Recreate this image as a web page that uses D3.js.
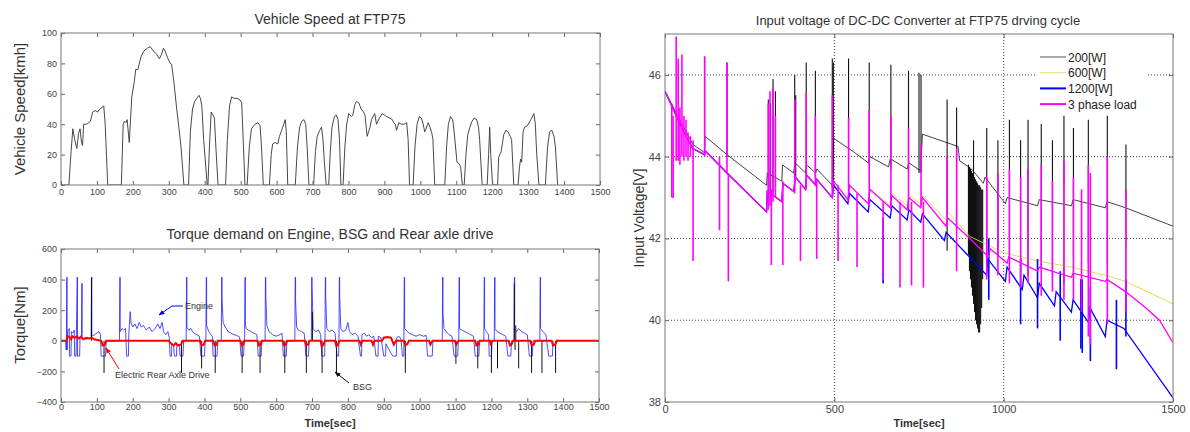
<!DOCTYPE html>
<html>
<head>
<meta charset="utf-8">
<script src="https://cdn.jsdelivr.net/npm/d3@7"></script>
<style>
body { margin: 0; background: #fff; }
text { font-family: "Liberation Sans", Arial, sans-serif; }
</style>
</head>
<body>
<svg id="chart" width="1190" height="432"></svg>
<script>

// ---- vehicle speed (FTP75), [sec, km/h]
var speed = [
    [0,0],[22,0],[28,22],[33,37],[38,30],[44,24],[49,34],[53,37],[57,28],[60,26],[63,40],[72,40],[82,42],[88,48],[95,49],[102,48],[108,50],[114,51],[119,52],[123,40],[130,0],
    [168,0],[173,40],[177,42],[181,41],[184,43],[188,33],[190,28],[197,58],[204,68],[208,76],[214,76],[222,84],[230,88],[240,90],[248,91],[258,88],[266,86],[274,83],[280,86],[285,90],[290,88],[296,84],[302,81],[308,79],[314,68],[322,50],[328,38],[334,25],[342,0],
    [355,0],[360,35],[366,50],[372,55],[378,57],[384,59],[388,57],[392,52],[397,30],[407,0],
    [409,0],[413,25],[418,48],[423,46],[427,44],[431,25],[437,0],
    [458,0],[463,30],[469,52],[475,58],[482,57],[490,57],[498,56],[503,54],[507,30],[512,0],
    [518,0],[524,25],[530,37],[540,40],[548,41],[554,39],[558,25],[563,0],
    [580,0],[585,20],[589,27],[596,28],[603,27],[608,32],[614,36],[620,40],[624,43],[627,35],[631,0],
    [652,0],[658,25],[664,38],[670,42],[676,43],[681,40],[685,25],[690,0],
    [703,0],[708,22],[713,32],[720,36],[725,38],[729,30],[733,15],[738,0],
    [745,0],[749,20],[754,38],[761,45],[766,46],[771,43],[775,30],[779,0],
    [785,0],[790,25],[795,40],[801,47],[808,45],[812,46],[818,53],[822,55],[829,54],[835,50],[842,48],[846,46],[852,32],[856,35],[860,38],[864,43],[873,47],[878,40],[886,44],[894,47],[900,46],[906,45],[915,44],[922,43],[926,41],[930,40],[934,36],[940,41],[947,40],[955,40],[962,41],[966,30],[970,0],
    [980,0],[985,25],[991,40],[997,45],[1003,44],[1008,40],[1012,35],[1016,37],[1022,41],[1027,38],[1032,34],[1035,30],[1040,0],
    [1068,0],[1073,25],[1078,40],[1084,45],[1090,43],[1094,35],[1098,25],[1102,15],[1108,14],[1112,12],[1117,0],
    [1122,0],[1127,20],[1132,33],[1138,38],[1144,42],[1150,44],[1157,43],[1162,38],[1165,30],[1172,0],
    [1186,0],[1190,20],[1193,38],[1196,20],[1201,0],
    [1215,0],[1218,18],[1221,20],[1225,22],[1232,33],[1238,36],[1244,35],[1250,32],[1254,30],[1260,0],
    [1272,0],[1276,12],[1279,17],[1282,15],[1286,35],[1290,38],[1298,39],[1305,42],[1310,44],[1316,47],[1320,40],[1324,20],[1330,0],
    [1348,0],[1354,25],[1360,35],[1366,36],[1372,32],[1376,25],[1382,0]
];

// ---- torque demand, [sec, Nm]
var engine = [
    [0,0],[13,0],[14,-60],[15,-60],[16,415],[17,415],[17,-60],[19,60],[23,80],[24,-100],[28,-100],[29,60],[33,50],[37,70],[38,-100],[42,-100],[43,40],[45,415],[46,415],[46,-100],[52,-100],[53,30],[57,30],[58,375],[59,375],[59,20],[68,10],[78,15],[84,20],[85,415],[86,415],[86,30],[93,40],[100,50],[106,60],[110,40],[112,-100],[124,-100],[126,0],
    [163,0],[164,415],[165,415],[165,60],[170,80],[175,70],[180,80],[183,-100],[188,-100],[189,40],[193,190],[195,120],[200,90],[206,110],[212,80],[218,120],[224,90],[230,100],[238,70],[246,90],[254,60],[262,80],[270,110],[276,80],[282,120],[286,60],[292,40],[298,60],[302,20],[304,-100],[308,-100],[309,-20],[314,-30],[316,-100],[322,-100],[323,-20],[330,-30],[332,-100],[340,-100],[342,0],
    [349,0],[350,415],[351,415],[351,90],[356,70],[362,80],[370,50],[378,40],[386,30],[390,-100],[400,-100],[402,0],
    [404,0],[405,415],[406,415],[406,100],[412,60],[418,40],[422,30],[424,-100],[435,-100],[437,0],
    [447,0],[448,415],[449,415],[449,280],[452,120],[458,90],[466,60],[474,50],[482,40],[490,35],[498,25],[502,-100],[509,-100],[511,0],
    [512,0],[513,415],[514,415],[514,100],[517,80],[522,70],[530,60],[538,50],[546,40],[550,-100],[558,-100],[560,0],
    [569,0],[570,415],[571,415],[571,300],[574,100],[580,60],[590,40],[600,30],[610,40],[616,50],[620,-100],[628,-100],[630,0],
    [652,0],[653,415],[654,415],[654,260],[657,90],[662,70],[670,60],[678,50],[683,-100],[690,-100],[692,0],
    [698,0],[699,415],[700,415],[700,360],[703,80],[710,60],[718,70],[724,40],[727,-100],[735,-100],[736,0],
    [736,0],[737,415],[738,415],[738,300],[741,80],[748,60],[756,70],[764,50],[770,-100],[774,-100],[775,0],
    [775,0],[776,415],[777,415],[777,300],[780,80],[786,60],[794,70],[800,120],[804,60],[812,40],[820,50],[828,30],[835,-100],[838,-100],[839,40],[846,50],[852,30],[858,40],[866,20],[872,30],[878,-100],[884,-100],[885,30],[892,20],[900,-100],[905,-100],[906,-20],[915,-60],[925,-100],[935,-100],[936,20],[942,30],[948,10],[952,-100],[956,-100],
    [956,0],[957,415],[958,415],[958,80],[962,70],[970,50],[980,40],[990,30],[1000,40],[1010,30],[1018,35],[1022,-100],[1035,-100],[1037,0],
    [1063,0],[1064,415],[1065,415],[1065,180],[1068,80],[1074,60],[1082,40],[1090,30],[1096,-100],[1106,-100],[1108,0],
    [1109,0],[1110,415],[1111,415],[1111,80],[1118,70],[1126,60],[1134,50],[1142,40],[1150,30],[1155,-100],[1165,-100],[1167,0],
    [1179,0],[1180,415],[1181,415],[1181,80],[1186,60],[1192,40],[1194,-100],[1200,-100],[1202,0],
    [1208,0],[1209,415],[1210,415],[1210,80],[1216,60],[1224,50],[1232,40],[1240,30],[1246,-100],[1254,-100],[1256,0],
    [1263,0],[1264,415],[1265,415],[1265,80],[1270,60],[1276,80],[1284,60],[1292,50],[1300,40],[1306,-100],[1314,-100],[1316,0],
    [1335,0],[1336,415],[1337,415],[1337,80],[1344,60],[1352,40],[1360,-100],[1370,-100],[1372,0]
];

// BSG spikes, [sec, Nm]
var bsg = [
    [85,415],[120,-210],[336,-210],[392,-180],[430,-210],[505,-210],[555,-210],[624,-210],[684,-210],
    [701,190],[728,-210],[768,-210],[960,-210],[1101,-150],[1162,-180],[1200,-210],[1217,-180],
    [1264,375],[1266,-60],[1268,100],[1276,-180],[1312,-210],[1341,-210],[1379,-210]
];

// electric rear axle drive, [sec, Nm]
var rearAxle = [
    [0,0],[16,0],[18,30],[24,25],[28,10],[32,30],[38,20],[44,30],[50,15],[56,25],[62,10],[70,20],[80,15],[86,20],[92,10],[112,0],[116,-30],[122,-25],[126,0],
    [300,0],[308,-20],[314,-30],[320,-15],[326,-30],[334,-25],[340,0],[388,0],[392,-30],[398,-25],[402,0],[424,0],[428,-30],[434,-25],[437,0],
    [500,0],[504,-30],[508,-25],[511,0],[548,0],[552,-30],[557,-25],[560,0],[618,0],[622,-30],[627,-25],[630,0],[680,0],[684,-30],[689,-25],[692,0],
    [724,0],[727,-35],[732,-25],[736,0],[764,0],[768,-35],[772,-25],[776,0],[832,0],[836,-25],[840,0],[866,0],[870,-25],[874,0],
    [895,0],[900,20],[910,25],[920,20],[928,-25],[934,0],[956,0],[960,-30],[966,-20],[970,0],[1026,0],[1030,-25],[1036,0],
    [1098,0],[1102,-25],[1108,0],[1155,0],[1158,-30],[1164,-25],[1167,0],[1196,0],[1198,-30],[1202,0],
    [1248,0],[1252,-30],[1257,-20],[1260,0],[1308,0],[1312,-30],[1318,-25],[1322,0],[1368,0],[1372,-30],[1378,-25],[1382,0],[1500,0]
];

// ---- DC-DC input voltage, baselines [sec, V]
var black200 = [
    [0,45.6],[25,45.2],[50,44.8],[82,44.3],[117,44.1],[118,44.5],[183,44.05],[300,43.3],[302,43.6],[345,43.4],[347,43.8],[380,43.6],[384,43.85],
    [415,43.6],[418,43.8],[445,43.6],[448,43.7],[494,43.3],[498,44.45],[560,44.1],[600,43.85],[605,44.0],[660,43.75],[665,43.95],[715,43.7],
    [720,43.85],[755,43.65],[760,44.55],[830,44.35],[865,44.25],[870,43.9],[905,43.7],[940,43.35],[945,43.5],[1005,42.85],[1010,43.0],
    [1100,42.8],[1105,42.95],[1200,42.8],[1205,42.95],[1300,42.75],[1305,42.9],[1360,42.75],[1500,42.3]
];
var yellow600 = [
    [0,45.6],[25,45.15],[50,44.7],[82,44.2],[117,44.05],[118,44.15],[183,43.6],[300,42.65],[302,43.15],[345,42.9],[348,43.35],[380,43.15],
    [385,43.5],[415,43.2],[418,43.55],[445,43.3],[448,43.45],[494,43.0],[498,43.4],[540,42.95],[545,43.3],[600,42.85],[605,43.2],[665,42.8],
    [670,43.1],[715,42.8],[720,43.05],[755,42.85],[760,43.05],[830,42.45],[835,42.65],[900,42.05],[1000,41.65],[1100,41.45],[1200,41.3],
    [1300,41.1],[1360,40.95],[1500,40.4]
];
var blue1200 = [
    [0,45.6],[25,45.15],[50,44.7],[82,44.2],[117,44.05],[118,44.15],[183,43.6],[300,42.65],[302,43.15],[345,42.9],[348,43.35],[380,43.15],
    [385,43.5],[415,43.2],[418,43.55],[445,43.3],[448,43.45],[494,43.0],[498,43.3],[540,42.85],[545,43.1],[600,42.65],[605,42.95],[665,42.5],
    [670,42.8],[715,42.45],[720,42.7],[755,42.4],[760,42.6],[825,41.95],[830,42.15],[950,41.1],[953,41.5],[1005,40.95],[1010,41.3],
    [1055,40.75],[1060,41.1],[1100,40.55],[1105,40.9],[1150,40.35],[1155,40.7],[1200,40.2],[1205,40.5],[1250,39.95],[1255,40.3],
    [1300,39.6],[1305,40.0],[1355,39.8],[1500,38.1]
];
var magenta3ph = [
    [0,45.6],[25,45.15],[50,44.7],[82,44.2],[117,44.05],[118,44.15],[183,43.6],[300,42.65],[302,43.15],[345,42.9],[348,43.35],[380,43.15],
    [385,43.5],[415,43.2],[418,43.55],[445,43.3],[448,43.45],[494,43.0],[498,43.4],[540,42.95],[545,43.3],[600,42.85],[605,43.2],[665,42.75],
    [670,43.05],[715,42.7],[720,43.0],[755,42.75],[760,43.0],[830,42.3],[835,42.5],[900,42.0],[955,41.55],[960,41.75],[1010,41.4],
    [1015,41.55],[1100,41.2],[1105,41.3],[1200,41.05],[1205,41.15],[1300,40.95],[1305,41.0],[1360,40.7],[1420,40.3],[1460,40.0],[1500,39.45]
];

// spikes, [sec, low V, high V]
var blackSpikes = [
    [117,44.2,46.45],[183,44.0,46.3],[305,42.9,45.4],[312,43.0,45.3],[319,43.1,45.9],[326,43.2,45.6],[383,43.4,46.0],[386,43.5,45.5],
    [417,43.5,46.3],[444,43.5,46.1],[494,43.2,46.4],[497,43.2,46.3],[542,43.9,46.4],[603,43.8,46.3],[667,43.7,46.25],[719,43.6,46.1],
    [750,43.6,46.05],[756,43.6,46.0],[833,41.7,45.4],[861,42.5,45.2],[911,42.8,44.4],[950,41.5,44.7],[983,41.6,44.4],[1017,41.2,44.9],
    [1050,41.2,44.4],[1072,41.1,44.9],[1111,41.3,44.8],[1144,41.0,44.4],[1178,40.9,45.0],[1206,41.5,44.7],[1250,41.4,44.9],
    [1306,41.4,45.0],[1361,41.8,44.3]
];
var blackCluster = [
    [896,41.6,43.8],[899,41.2,43.75],[902,41.0,43.7],[905,40.8,43.65],[908,40.6,43.6],[911,40.4,43.55],[914,40.2,43.5],[917,40.0,43.45],
    [920,39.9,43.4],[923,39.8,43.35],[926,39.7,43.3],[929,39.7,43.3],[932,39.9,43.25],[935,40.3,43.2],[938,41.0,43.2]
];
var yellowSpikes = [[1178,41.3,43.3],[1250,41.2,43.1],[1306,41.1,43.5],[1361,41.0,43.0]];
var blueSpikes = [
    [644,40.9,42.5],[956,40.5,42.0],[1050,39.9,41.5],[1100,39.8,41.5],[1167,39.5,41.2],[1228,39.3,41.0],[1232,39.2,41.0],
    [1256,39.0,40.8],[1333,38.8,40.5],[1361,39.6,41.0]
];
var magentaSpikes = [
    [20,43.0,45.3],[24,42.98,45.0],[33,43.9,46.94],[39,43.9,46.4],[44,43.8,45.2],[50,44.0,46.5],[56,43.9,45.0],[62,44.0,44.9],[68,43.9,44.6],
    [75,44.0,44.5],[83,41.45,44.4],[117,44.0,46.45],[161,42.2,44.0],[183,43.6,46.3],[187,40.95,43.6],[305,42.7,45.3],[310,42.8,45.6],
    [314,41.35,43.2],[319,42.9,45.7],[326,43.0,45.0],[348,41.35,43.4],[383,43.1,45.4],[400,41.45,43.3],[417,43.2,45.55],[444,43.3,45.0],
    [448,41.5,43.4],[494,43.0,45.5],[511,41.45,43.3],[542,42.9,44.95],[567,41.3,43.1],[603,42.8,45.15],[644,41.0,42.9],[667,42.7,45.0],
    [694,40.8,42.9],[719,42.7,44.7],[728,40.85,42.9],[756,42.8,44.3],[763,40.8,42.9],[833,42.3,44.0],[861,41.2,44.2],[950,41.0,43.5],
    [983,41.1,43.6],[1017,40.9,43.7],[1050,40.8,43.5],[1072,40.9,43.7],[1111,40.6,43.8],[1144,40.7,43.4],[1178,40.5,43.9],
    [1206,40.5,43.5],[1230,40.2,43.2],[1250,39.6,43.8],[1256,39.4,43.6],[1306,39.9,44.0],[1361,40.2,43.2]
];

var legendNames = ["200[W]", "600[W]", "1200[W]", "3 phase load"];
var legendColors = ["#555555", "#e0e070", "#0000ff", "#ff00ff"];

var timeTicks = d3.range(0, 1501, 100);
var speedTicks = [0, 20, 40, 60, 80, 100];
var torqueTicks = [-400, -200, 0, 200, 400, 600];
var voltTicks = [38, 40, 42, 44, 46];
var voltTimeTicks = [0, 500, 1000, 1500];

var svg = d3.select("#chart");
var fmt = d3.format("d");

// matlab style box: inside ticks on all four sides
var frame = function (g, x, y, xt, yt, fs, pad) {
    var r = x.range(), b = y.range();
    g.append("g")
        .attr("transform", "translate(0," + b[0] + ")")
        .call(d3.axisBottom(x).tickValues(xt).tickFormat(fmt).tickSizeInner(-4).tickSizeOuter(0).tickPadding(pad))
        .call(function (a) { a.select(".domain").remove(); })
        .selectAll("text").style("font-size", fs + "px").attr("fill", "#444");
    g.append("g")
        .attr("transform", "translate(0," + b[1] + ")")
        .call(d3.axisTop(x).tickValues(xt).tickSizeInner(-4).tickSizeOuter(0).tickFormat(""))
        .call(function (a) { a.select(".domain").remove(); });
    g.append("g")
        .attr("transform", "translate(" + r[0] + ",0)")
        .call(d3.axisLeft(y).tickValues(yt).tickFormat(fmt).tickSizeInner(-4).tickSizeOuter(0).tickPadding(4))
        .call(function (a) { a.select(".domain").remove(); })
        .selectAll("text").style("font-size", fs + "px").attr("fill", "#444");
    g.append("g")
        .attr("transform", "translate(" + r[1] + ",0)")
        .call(d3.axisRight(y).tickValues(yt).tickSizeInner(-4).tickSizeOuter(0).tickFormat(""))
        .call(function (a) { a.select(".domain").remove(); });
    g.selectAll(".tick line").attr("stroke", "#666");
    g.append("rect")
        .attr("x", r[0]).attr("y", b[1])
        .attr("width", r[1] - r[0]).attr("height", b[0] - b[1])
        .attr("fill", "none").attr("stroke", "#777").attr("stroke-width", 1);
};

var clip = function (id, x, y) {
    svg.append("clipPath").attr("id", id).append("rect")
        .attr("x", x.range()[0]).attr("y", y.range()[1])
        .attr("width", x.range()[1] - x.range()[0]).attr("height", y.range()[0] - y.range()[1]);
};

// ---- vehicle speed
var xs = d3.scaleLinear().domain([0, 1500]).range([61, 600]);
var ys = d3.scaleLinear().domain([0, 100]).range([185, 33]);
var g1 = svg.append("g");
clip("c1", xs, ys);
g1.append("path")
    .attr("clip-path", "url(#c1)")
    .attr("d", d3.line().x(function (d) { return xs(d[0]); }).y(function (d) { return ys(d[1]); })(speed))
    .attr("fill", "none").attr("stroke", "#333").attr("stroke-width", 0.9);
frame(g1, xs, ys, timeTicks, speedTicks, 9, 4);
g1.append("text").attr("x", 330).attr("y", 24).attr("text-anchor", "middle")
    .style("font-size", "14px").attr("fill", "#333").text("Vehicle Speed at FTP75");
g1.append("text").attr("transform", "translate(25,109) rotate(-90)").attr("text-anchor", "middle")
    .style("font-size", "15px").attr("fill", "#333").text("Vehicle Speed[kmh]");

// ---- torque
var xt = d3.scaleLinear().domain([0, 1500]).range([61, 599]);
var yt = d3.scaleLinear().domain([-400, 600]).range([402, 249]);
var g2 = svg.append("g");
clip("c2", xt, yt);
var tline = d3.line().x(function (d) { return xt(d[0]); }).y(function (d) { return yt(d[1]); });
var p2 = g2.append("g").attr("clip-path", "url(#c2)");
p2.append("path").attr("d", tline(engine))
    .attr("fill", "none").attr("stroke", "#1f1fff").attr("stroke-width", 0.8);
p2.selectAll("line.bsg").data(bsg).enter().append("line")
    .attr("x1", function (d) { return xt(d[0]); }).attr("x2", function (d) { return xt(d[0]); })
    .attr("y1", yt(0)).attr("y2", function (d) { return yt(d[1]); })
    .attr("stroke", "#111").attr("stroke-width", 1);
p2.append("path").attr("d", tline(rearAxle))
    .attr("fill", "none").attr("stroke", "#ff0000").attr("stroke-width", 2);
frame(g2, xt, yt, timeTicks, torqueTicks, 9, 2);
g2.append("text").attr("x", 330).attr("y", 239).attr("text-anchor", "middle")
    .style("font-size", "14px").attr("fill", "#333").text("Torque demand on Engine, BSG and Rear axle drive");
g2.append("text").attr("transform", "translate(25,325) rotate(-90)").attr("text-anchor", "middle")
    .style("font-size", "15px").attr("fill", "#333").text("Torque[Nm]");
g2.append("text").attr("x", 330).attr("y", 427).attr("text-anchor", "middle")
    .style("font-size", "11px").style("font-weight", "bold").attr("fill", "#333").text("Time[sec]");

// annotations
var arrow = function (id, col) {
    svg.append("defs").append("marker").attr("id", id)
        .attr("viewBox", "0 0 10 10").attr("refX", 9).attr("refY", 5)
        .attr("markerWidth", 6).attr("markerHeight", 6).attr("orient", "auto")
        .append("path").attr("d", "M0,1L10,5L0,9z").attr("fill", col);
};
arrow("ab", "#0000ff");
arrow("ar", "#ff0000");
arrow("ak", "#111");
g2.append("polyline").attr("points", "183,306 172,306 159,315")
    .attr("fill", "none").attr("stroke", "#0000ff").attr("marker-end", "url(#ab)");
g2.append("text").attr("x", 185).attr("y", 309).style("font-size", "9px").attr("fill", "#333").text("Engine");
g2.append("line").attr("x1", 119).attr("y1", 369).attr("x2", 106).attr("y2", 348)
    .attr("stroke", "#ff0000").attr("marker-end", "url(#ar)");
g2.append("text").attr("x", 115).attr("y", 378).style("font-size", "9px").attr("fill", "#333").text("Electric Rear Axle Drive");
g2.append("line").attr("x1", 349).attr("y1", 383).attr("x2", 335).attr("y2", 372)
    .attr("stroke", "#111").attr("marker-end", "url(#ak)");
g2.append("text").attr("x", 353).attr("y", 390).style("font-size", "9px").attr("fill", "#333").text("BSG");

// ---- input voltage
var xv = d3.scaleLinear().domain([0, 1500]).range([665, 1173]);
var yv = d3.scaleLinear().domain([38, 47]).range([402, 34]);
var g3 = svg.append("g");
clip("c3", xv, yv);
g3.selectAll("line.gx").data([500, 1000]).enter().append("line")
    .attr("x1", function (d) { return xv(d); }).attr("x2", function (d) { return xv(d); })
    .attr("y1", yv(47)).attr("y2", yv(38))
    .attr("stroke", "#444").attr("stroke-dasharray", "1,2");
g3.selectAll("line.gy").data([40, 42, 44, 46]).enter().append("line")
    .attr("x1", xv(0)).attr("x2", xv(1500))
    .attr("y1", function (d) { return yv(d); }).attr("y2", function (d) { return yv(d); })
    .attr("stroke", "#444").attr("stroke-dasharray", "1,2");

var vline = d3.line().x(function (d) { return xv(d[0]); }).y(function (d) { return yv(d[1]); });
var p3 = g3.append("g").attr("clip-path", "url(#c3)");
var drawSeries = function (base, spikes, col, w) {
    p3.append("path").attr("d", vline(base))
        .attr("fill", "none").attr("stroke", col).attr("stroke-width", w);
    p3.append("g").selectAll("line").data(spikes).enter().append("line")
        .attr("x1", function (d) { return xv(d[0]); }).attr("x2", function (d) { return xv(d[0]); })
        .attr("y1", function (d) { return yv(d[1]); }).attr("y2", function (d) { return yv(d[2]); })
        .attr("stroke", col).attr("stroke-width", w + 0.3);
};
drawSeries(black200, blackSpikes.concat(blackCluster), "#111", 0.8);
drawSeries(yellow600, yellowSpikes, "#d8d840", 0.9);
drawSeries(blue1200, blueSpikes, "#0000ff", 1.3);
drawSeries(magenta3ph, magentaSpikes, "#ff00ff", 1.3);

frame(g3, xv, yv, voltTimeTicks, voltTicks, 11, 3);
g3.append("text").attr("x", 918).attr("y", 25).attr("text-anchor", "middle")
    .style("font-size", "13px").attr("fill", "#333").text("Input voltage of DC-DC Converter at FTP75 drving cycle");
g3.append("text").attr("transform", "translate(644,218) rotate(-90)").attr("text-anchor", "middle")
    .style("font-size", "14px").attr("fill", "#333").text("Input Voltage[V]");
g3.append("text").attr("x", 919).attr("y", 427).attr("text-anchor", "middle")
    .style("font-size", "11px").style("font-weight", "bold").attr("fill", "#333").text("Time[sec]");

// legend
var lg = g3.append("g");
lg.append("rect").attr("x", 1035).attr("y", 46).attr("width", 112).attr("height", 66).attr("fill", "#fff");
legendNames.forEach(function (n, i) {
    var yy = 57 + i * 15.7;
    lg.append("line").attr("x1", 1040).attr("x2", 1066).attr("y1", yy).attr("y2", yy)
        .attr("stroke", legendColors[i]).attr("stroke-width", i >= 2 ? 2 : 1);
    lg.append("text").attr("x", 1068).attr("y", yy + 4.5).style("font-size", "12px").attr("fill", "#222").text(n);
});

</script>
</body>
</html>
